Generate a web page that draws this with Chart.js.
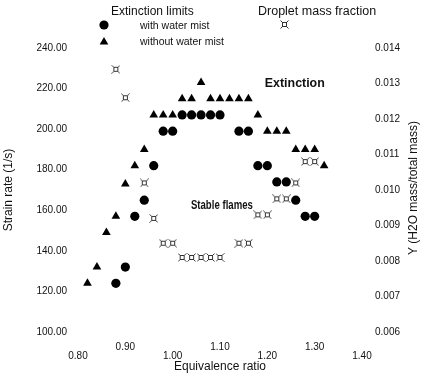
<!DOCTYPE html>
<html>
<head>
<meta charset="utf-8">
<script src="https://cdn.jsdelivr.net/npm/chart.js@4/dist/chart.umd.min.js"></script>
<style>
  html, body { margin: 0; padding: 0; background: #fff; }
</style>
</head>
<body>
<canvas id="chart" width="424" height="381"></canvas>
<script>
// extinction limits, strain rate (1/s) vs equivalence ratio
var triX = [0.82, 0.84, 0.86, 0.88, 0.90, 0.92, 0.94, 0.96, 0.98, 1.00, 1.02, 1.04, 1.06,
            1.08, 1.10, 1.12, 1.14, 1.16, 1.18, 1.20, 1.22, 1.24, 1.26, 1.28, 1.30, 1.32];
var triY = [124, 132, 149, 157, 173, 182, 190, 207, 207, 207, 215, 215, 223,
            215, 215, 215, 215, 215, 207, 199, 199, 199, 190, 190, 190, 182];

var cirX = [0.88, 0.90, 0.92, 0.94, 0.96, 0.98, 1.00, 1.02, 1.04, 1.06, 1.08,
            1.10, 1.14, 1.16, 1.18, 1.20, 1.22, 1.24, 1.26, 1.28, 1.30];
var cirY = [124, 132, 157, 165, 182, 199, 199, 207, 207, 207, 207,
            207, 199, 199, 182, 182, 174, 174, 165, 157, 157];

// droplet mass fraction, right axis
var dropX = [0.88, 0.90, 0.94, 0.96, 0.98, 1.00, 1.02, 1.04, 1.06, 1.08,
             1.10, 1.14, 1.16, 1.18, 1.20, 1.22, 1.24, 1.26, 1.28, 1.30];
var dropY = [0.0134, 0.0126, 0.0102, 0.0092, 0.0085, 0.0085, 0.0081, 0.0081, 0.0081, 0.0081,
             0.0081, 0.0085, 0.0085, 0.0093, 0.0093, 0.00975, 0.00975, 0.0102, 0.0108, 0.0108];

var xTicks = [0.8, 1.4, 0.1];
var yTicks = [100, 240, 20];
var y2Ticks = [0.006, 0.014, 0.001];

var INK = '#111';
var FONT = 'Arial, "Liberation Sans", sans-serif';

function pts(xs, ys) {
    return xs.map(function (x, i) { return { x: x, y: ys[i] }; });
}

// small boxed star marker like the scanned one
function makeStar() {
    var c = document.createElement('canvas');
    c.width = 9; c.height = 9;
    var g = c.getContext('2d');
    g.strokeStyle = '#333';
    g.lineWidth = 1;
    g.strokeRect(2.5, 2.5, 4, 4);
    g.beginPath();
    g.moveTo(0.5, 0.5); g.lineTo(2.5, 2.5);
    g.moveTo(8.5, 0.5); g.lineTo(6.5, 2.5);
    g.moveTo(0.5, 8.5); g.lineTo(2.5, 6.5);
    g.moveTo(8.5, 8.5); g.lineTo(6.5, 6.5);
    g.stroke();
    return c;
}
var STAR = makeStar();

function text(ctx, str, x, y, font, align, width) {
    ctx.save();
    ctx.font = font;
    ctx.fillStyle = INK;
    ctx.textBaseline = 'middle';
    ctx.textAlign = align || 'left';
    if (width) {
        var w = ctx.measureText(str).width;
        ctx.translate(x, y);
        ctx.scale(width / w, 1);
        ctx.fillText(str, 0, 0);
    } else {
        ctx.fillText(str, x, y);
    }
    ctx.restore();
}

var extras = {
    id: 'extras',
    afterDraw: function (chart) {
        var ctx = chart.ctx;
        var xs = chart.scales.x, ys = chart.scales.y;

        // legend block
        text(ctx, 'Extinction limits', 111, 12, '12px ' + FONT);
        text(ctx, 'Droplet mass fraction', 258, 12, '12.5px ' + FONT);
        text(ctx, 'with water mist', 140, 26, '10.5px ' + FONT);
        text(ctx, 'without water mist', 140, 42, '10.5px ' + FONT);

        var ds = chart.data.datasets;
        ctx.save();
        ctx.fillStyle = '#000';
        ctx.strokeStyle = '#000';
        Chart.helpers.drawPoint(ctx, { pointStyle: ds[0].pointStyle, radius: ds[0].pointRadius, rotation: 0, borderWidth: 0 }, 104, 25);
        Chart.helpers.drawPoint(ctx, { pointStyle: ds[1].pointStyle, radius: ds[1].pointRadius, rotation: 0, borderWidth: 0 }, 104, 42);
        ctx.drawImage(STAR, 280, 20);
        ctx.restore();

        // region labels
        text(ctx, 'Extinction', xs.getPixelForValue(1.258), ys.getPixelForValue(222.5), 'bold 12px ' + FONT, 'center', 60);
        text(ctx, 'Stable flames', xs.getPixelForValue(1.104), ys.getPixelForValue(162.5), 'bold 13px ' + FONT, 'center', 62);

        // right axis title reads bottom to top
        ctx.save();
        ctx.translate(414, 188);
        ctx.rotate(-Math.PI / 2);
        text(ctx, 'Y (H2O mass/total mass)', 0, 0, '12px ' + FONT, 'center');
        ctx.restore();
    }
};

new Chart(document.getElementById('chart'), {
    type: 'scatter',
    data: {
        datasets: [{
            label: 'with water mist',
            data: pts(cirX, cirY),
            pointStyle: 'circle',
            pointRadius: 4.6,
            backgroundColor: '#000',
            borderWidth: 0,
            yAxisID: 'y'
        }, {
            label: 'without water mist',
            data: pts(triX, triY),
            pointStyle: 'triangle',
            pointRadius: 5,
            backgroundColor: '#000',
            borderWidth: 0,
            yAxisID: 'y'
        }, {
            label: 'Droplet mass fraction',
            data: pts(dropX, dropY),
            pointStyle: STAR,
            pointRadius: 4,
            yAxisID: 'y2'
        }]
    },
    options: {
        responsive: false,
        animation: false,
        layout: { padding: { top: 48, left: 0, right: 0, bottom: 0 } },
        plugins: {
            legend: { display: false },
            tooltip: { enabled: false }
        },
        scales: {
            x: {
                type: 'linear',
                min: xTicks[0], max: xTicks[1],
                grid: { display: false, drawTicks: false },
                border: { display: false },
                ticks: {
                    stepSize: xTicks[2],
                    padding: 10.5,
                    maxRotation: 0,
                    autoSkip: false,
                    color: INK,
                    font: { family: FONT, size: 10, lineHeight: 0.9 },
                    callback: function (v, i) {
                        var s = Number(v).toFixed(2);
                        return i % 2 === 0 ? ['', s] : s;
                    }
                },
                title: {
                    display: true,
                    text: 'Equivalence ratio',
                    color: INK,
                    font: { family: FONT, size: 12 },
                    padding: { top: 0, bottom: 7 }
                },
                afterFit: function (s) { s.height = 49; }
            },
            y: {
                position: 'left',
                min: yTicks[0], max: yTicks[1],
                grid: { display: false, drawTicks: false },
                border: { display: false },
                ticks: {
                    stepSize: yTicks[2],
                    padding: 11,
                    color: INK,
                    font: { family: FONT, size: 10 },
                    callback: function (v) { return Number(v).toFixed(2); }
                },
                title: {
                    display: true,
                    text: 'Strain rate (1/s)',
                    color: INK,
                    font: { family: FONT, size: 12 },
                    padding: { top: 1, bottom: 0 }
                },
                afterFit: function (s) { s.width = 78; }
            },
            y2: {
                position: 'right',
                min: y2Ticks[0], max: y2Ticks[1],
                grid: { display: false, drawTicks: false },
                border: { display: false },
                ticks: {
                    stepSize: y2Ticks[2],
                    padding: 13,
                    color: INK,
                    font: { family: FONT, size: 10 },
                    callback: function (v) { return Number(v).toFixed(3); }
                },
                afterFit: function (s) { s.width = 62; }
            }
        }
    },
    plugins: [extras]
});
</script>
</body>
</html>
